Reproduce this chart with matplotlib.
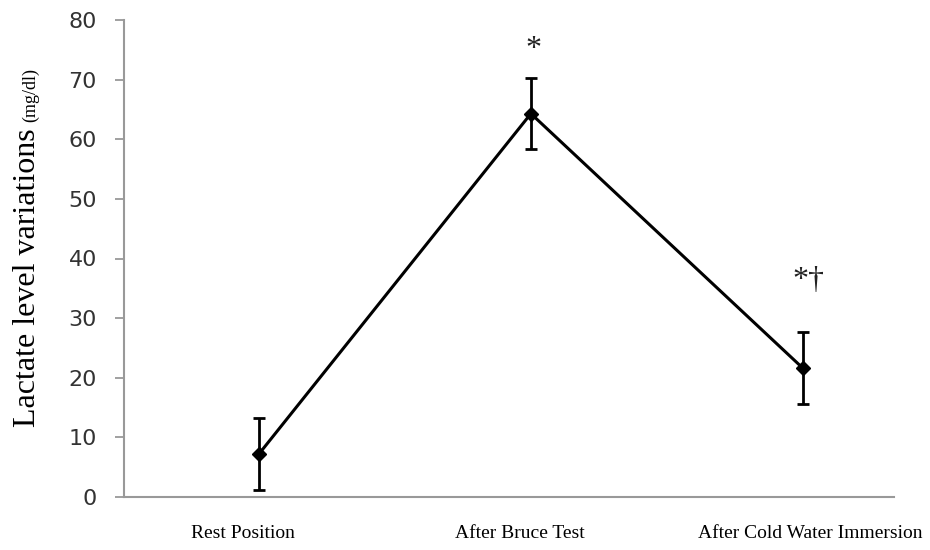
import matplotlib.pyplot as plt

# data
categories = ["Rest Position", "After Bruce Test", "After Cold Water Immersion"]
lactate = [7.2, 64.3, 21.6]
sd = [6.0, 5.9, 6.0]
marks = ["", "*", "*\u2020"]
mark_x = [0, 1.01, 2.022]
mark_y = [None, 75.0, 36.3]
label_x = [-0.057, 0.96, 2.026]

fig = plt.figure(figsize=(9.3, 5.5), dpi=100)
ax = fig.add_axes([0.1333, 0.0964, 0.828, 0.8672])

x = list(range(len(categories)))
ax.errorbar(x, lactate, yerr=sd, color="black", lw=2.2, marker="D", ms=7,
            elinewidth=2, capsize=4.5, capthick=2)

for m, xx, yy in zip(marks, mark_x, mark_y):
    if m:
        ax.text(xx, yy, m, ha="center", va="center", fontsize=23,
                family=["Liberation Serif"], color="#222222")

ax.set_xlim(-0.496, 2.335)
ax.set_ylim(0, 80)
ax.set_yticks(range(0, 81, 10))
ax.set_xticks(label_x)
ax.set_xticklabels(categories, family="Liberation Serif", fontsize=14)
ax.tick_params(axis="x", length=0, pad=20)
ax.tick_params(axis="y", length=6.5, width=1.3, color="#999999", labelsize=16,
               labelcolor="#333333", pad=13)

for s in ["top", "right"]:
    ax.spines[s].set_visible(False)
for s in ["left", "bottom"]:
    ax.spines[s].set_color("#999999")
    ax.spines[s].set_linewidth(1.5)

# y label: main part plus smaller unit on the same baseline
fig.text(35 / 930, 1 - 278 / 550, "Lactate level variations", rotation=90,
         rotation_mode="anchor", ha="center", va="baseline",
         family="Liberation Serif", fontsize=23)
fig.text(35 / 930, 1 - 122 / 550, "(mg/dl)", rotation=90,
         rotation_mode="anchor", ha="left", va="baseline",
         family="Liberation Serif", fontsize=13)

fig.savefig("out.png", dpi=100)
